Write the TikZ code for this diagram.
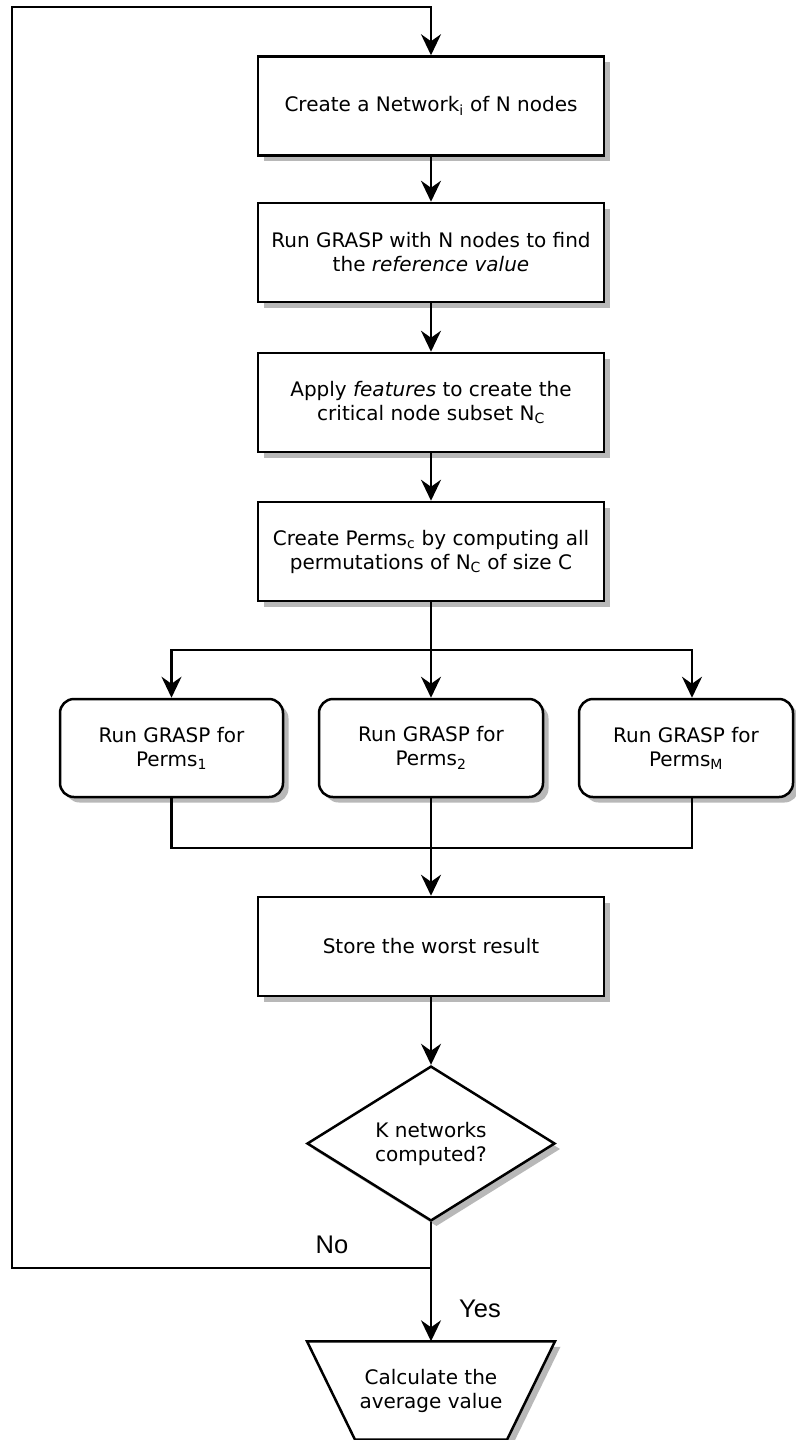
\documentclass[tikz,border=0pt]{standalone}
\usepackage{fontspec}
\setmainfont{DejaVu Sans}
\newfontfamily\arialfont{Liberation Sans}
\usetikzlibrary{arrows.meta,shapes.geometric,shadows,backgrounds}
\begin{document}
\begin{tikzpicture}[x=1pt,y=-1pt,
  shad/.style={drop shadow={shadow xshift=5.5pt,shadow yshift=-5.5pt,fill=black!28,opacity=1}},
  base/.style={draw,line width=2.5pt,fill=white,inner sep=0pt,align=center,
    font=\fontsize{20}{24}\selectfont,shad},
  stepbox/.style={base,rectangle,minimum width=346pt,minimum height=99pt},
  runbox/.style={base,rectangle,rounded corners=14pt,minimum height=98pt},
  decision/.style={base,diamond,minimum width=248pt,minimum height=147pt},
  endtext/.style={rectangle,inner sep=0pt,align=center,minimum width=248pt,minimum height=98pt,
    font=\fontsize{20}{24}\selectfont},
  line/.style={line width=2.5pt},
  flow/.style={line,-{Stealth[length=21pt,width=20pt,inset=7pt]}},
  lbl/.style={font=\arialfont\fontsize{25.5}{30}\selectfont,inner sep=0pt}
]
\useasboundingbox (0,0) rectangle (795,1440);

\node[stepbox] (b1) at (431,106) {Create a Network\textsubscript{i} of N nodes};
\node[stepbox] (b2) at (431,252.5) {Run GRASP with N nodes to find\\the \textit{reference value}};
\node[stepbox] (b3) at (431,402.5) {Apply \textit{features} to create the\\critical node subset N\textsubscript{C}};
\node[stepbox] (b4) at (431,551.5) {Create Perms\textsubscript{c} by computing all\\permutations of N\textsubscript{C} of size C};

\node[runbox,minimum width=223pt] (A) at (171.5,748) {Run GRASP for\\Perms\textsubscript{1}};
\node[runbox,minimum width=224pt] (B) at (431,748) {Run GRASP for\\Perms\textsubscript{2}};
\node[runbox,minimum width=214pt] (C) at (686,748) {Run GRASP for\\Perms\textsubscript{M}};

\node[stepbox] (b6) at (431,946.5) {Store the worst result};
\node[decision] (D) at (431,1143.5) {K networks\\computed?};
\node[endtext] (T) at (431,1390.5) {Calculate the\\average value};
\begin{scope}[on background layer]
  \draw[line,fill=white,shad] ([xshift=-124pt]T.north) -- ([xshift=124pt]T.north)
    -- ([xshift=76pt]T.south) -- ([xshift=-76pt]T.south) -- cycle;
\end{scope}

\node[lbl] (no) at (332,1245) {No};
\node[lbl] (yes) at (480,1309) {Yes};

\coordinate (fan) at (431,650);
\coordinate (join) at (431,848);
\coordinate (nojoin) at (431,1268);
\coordinate (loopbl) at (12,1268);
\coordinate (looptl) at (12,7);

\draw[flow] (b1) -- (b2);
\draw[flow] (b2) -- (b3);
\draw[flow] (b3) -- (b4);
\draw[flow] (b4) -- (B);
\draw[flow] (fan) -| (A.north);
\draw[flow] (fan) -| ([xshift=6pt]C.north);
\draw[line] (A.south) |- (join);
\draw[line] ([xshift=6pt]C.south) |- (join);
\draw[flow] (B) -- (b6);
\draw[flow] (b6) -- (D);
\draw[flow] (D) -- (T.north);
\draw[flow] (nojoin) -- (loopbl) -- (looptl) -| (b1.north);
\end{tikzpicture}
\end{document}
